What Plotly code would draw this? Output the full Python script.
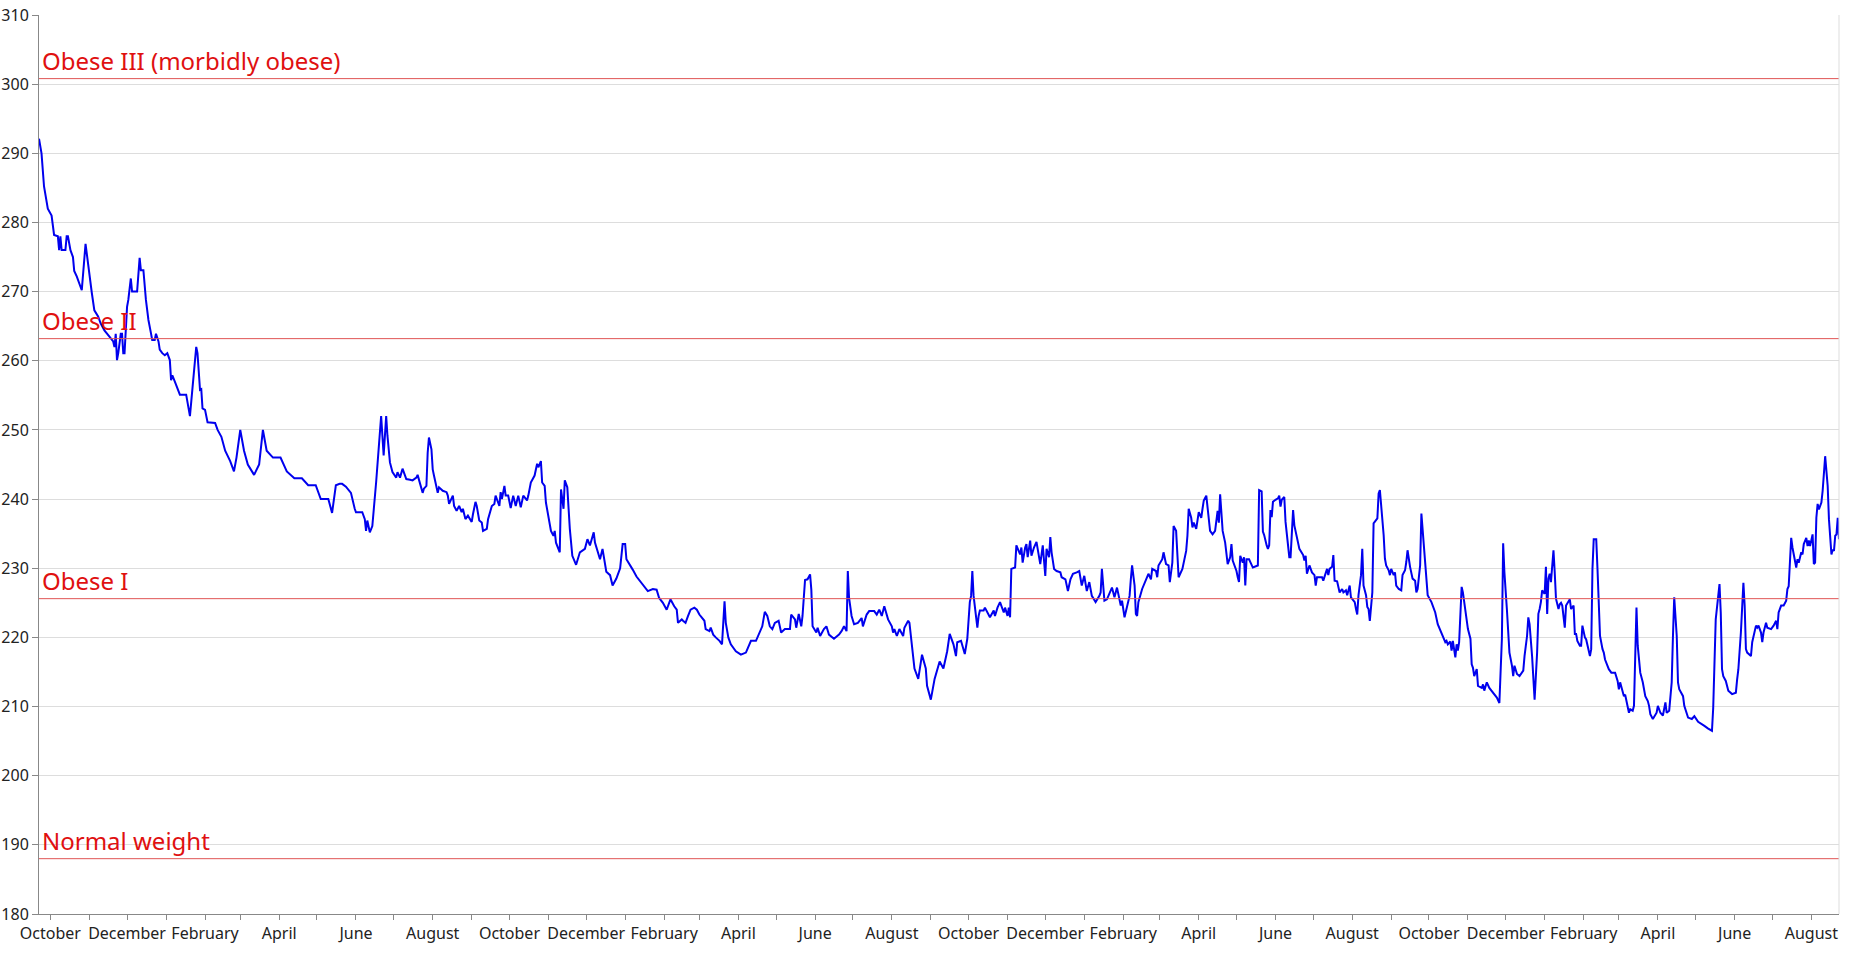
import pandas as pd
import plotly.graph_objects as go

START = "2013-09-22"

# (day offset from START, weight in lb)
seg1 = [(0,292.1),(2,290),(4,285.2),(7,282),(10,281),(12,278.2),(15,278),(16,276),(17,278),(18,276),(21,276),(22,278),(23,278),(25,276),(27,275),(28,273),(30,272.2),(32,271.2),(34,270.2),(37,276.9),(40,272.2),(42,269.8),(44,267.3),(47,266.4),(49,265.4),(52,264.4),(56,263.5),(59,262.8),(60,262),(61,263.9),(62,260.1),(63,261.1),(65,263.9),(66,263.9),(67,261.1),(68,261.1),(70,267.8),(71,268.8),(73,271.9),(74,270),(78,270),(80,274.9),(81,273.1),(83,273.1),(85,268.8),(87,265.9),(89,264),(90,263),(92,263),(93,263.9),(95,262.8),(96,261.6),(98,261.1),(100,260.8),(102,261.1),(104,260.1),(105,257.2),(106,257.9),(108,257),(110,256),(112,255.1),(117,255.1),(120,252),(125,262),(126,261.1),(128,255.8),(129,255.9),(130,253.1),(132,252.9),(134,251.1),(140,251),(142,250),
        (145,249),(148,247),(152,245.5),(155,244),(157,246),(160,250),(163,247),(166,245),(171,243.5),(175,245),(178,250),(181,247),(186,246),(192,246),(197,244),(203,243),(209,243),(214,242),(220,242),(224,240),(230,240),(233,238),(236,242)]

seg2 = [(239,242.2),(241,242.2),(244,241.8),(248,240.9),(251,238.6),(252,238.1),(257,238.1),(259,237.1),(260,235.4),(261,236.9),(263,235.2),(265,236.1),(268,242.4),(270,247.7),(272,252),(274,246.3),(276,252),(277,249.2),(279,245.3),(281,243.9),(284,243.1),(285,243.9),(287,243.1),(289,244.4),(291,243.4),(292,242.9),(295,242.8),(297,242.7),(300,243.1),(301,243.5),(303,242.2),(305,240.9),(306,241.5),(308,241.9),(309,246.7),(310,248.9),(312,247.2),(313,244.3),(314,243.4),(316,241.4),(317,240.9),(318,241.7),(321,241.2),(324,241),(325,240.5),(326,239.3),(329,240.5),(330,239),(332,238.3),(334,239),(336,238.1),(337,238.6),(339,237.1),(341,237.6),(344,236.7),(345,237.8),(347,239.6),(348,239),(350,236.9),(352,236.6),(353,235.4),(356,235.7),(357,237.1),(360,239),(362,239.3),(363,240.5),(366,239),(367,241),(368,240),(370,241.9),(371,240.5),(373,240.5),(375,238.7),(377,240.5),(379,239),(381,240.5),(383,238.8),(385,240.5),(388,239.8),(389,240.5),(391,242.4),(394,243.4),(396,245.1),(397,244.6),(399,245.5),(400,242.4),(402,241.9),(403,239.5),(405,237.6),(407,235.4),(409,234.7),(410,235.4),(411,233.7),(414,232.3),(415,241.4),(417,238.6),(418,242.7),(420,241.7),(422,235.7),(424,231.8),(427,230.5),(430,232.3),(434,232.8),(436,234.2),(438,233.3),(441,235.2),(442,233.7),(444,232.3),(446,231.3),(448,232.8),(451,229.5),(454,229),(456,227.5),(459,228.5),(462,230),(464,233.5),(466,233.5),(467,231.3),(470,230.5),(472,229.8),(475,228.8),(477,228.3),(481,227.3)]

seg3 = [(484,226.7),(488,227),(491,226.9),(493,225.7),(496,225),(499,224),(502,225.5),(505,224.5),(507,224),(508,222.1),(511,222.6),(512,222.4),(514,222.1),(516,223.1),(518,224),(521,224.3),(523,224),(525,223.3),(529,222.4),(530,221.2),(533,220.9),(534,221.4),(536,220.4),(538,220),(541,219.5),(543,219),(545,225.2),(546,222.1),(548,220),(550,219),(554,218),(558,217.5),(562,217.8),(566,219.5),(570,219.5),(575,221.6),(577,223.7),(579,223.1),(581,221.6),(583,221.2),(585,222.1),(588,222.4),(590,220.7),(593,221.2),(597,221.2),(598,223.3),(601,222.6),(602,221.4),(604,223.4),(606,221.6),(607,223.1),(609,228.3),(611,228.4),(613,229.1),(614,226.9),(615,221.6),(618,220.7),(619,221.4),(621,220.2),(624,221.2),(626,221.6),(628,220.4),(632,219.8),(636,220.4),(638,220.9),(640,221.6),(642,220.9),(643,229.6),(644,225.7),(646,223.1),(648,221.9),(651,222.1),(654,222.8),(655,221.6),(658,223.3),(660,223.8),(664,223.8),(666,223.3),(668,224),(670,223.1),(672,224.5),(675,222.6),(678,221.6),(679,220.7),(680,221.2),(682,220.2),(684,221.2),(687,220.2),(688,221.4),(691,222.4),(692,222.1),(696,215.5),(699,214),(702,217.5),(705,215.5),(706,213),(709,211),(712,214),(716,216.5),(719,215.5),(722,218)]

seg4 = [(724,220.5),(727,219),(729,217.3),(730,219.3),(733,219.5),(736,217.6),(738,219.8),(740,225.1),(741,226),(742,229.6),(743,226),(745,223.1),(746,221.4),(747,223.1),(748,223.9),(751,223.9),(752,224.3),(756,222.9),(759,223.9),(760,223.1),(762,224.3),(764,225.1),(767,223.6),(768,224.3),(770,223.1),(771,224.3),(772,222.9),(773,229.9),(776,230.1),(777,233.3),(780,232),(781,233),(782,230.8),(784,233),(785,233.5),(786,231.6),(788,234),(789,231.8),(791,233),(793,233.8),(795,231.8),(796,230.6),(798,233.3),(800,228.9),(801,232.8),(803,231.6),(804,234.5),(805,232.3),(807,229.9),(809,229.6),(812,229.4),(813,228.7),(816,228.4),(818,226.7),(820,228.4),(822,229.2),(825,229.4),(827,229.6),(829,227.5),(831,228.9),(833,226.7),(835,228),(837,226),(840,225.1),(843,226),(844,226.5),(845,229.9),(847,225.3),(849,225.5),(853,227.2),(855,225.8),(857,227.2),(860,224.6),(861,225.3),(863,222.9),(865,224.6),(867,226),(868,228.4),(869,230.4),(871,227.5),(872,223.4),(873,223.1),(874,225.1),(877,227),(880,228.4),(882,229.2),(884,228.4),(885,229.9),(888,229.6),(889,228.7),(890,230.4),(893,231.3),(894,232.3),(896,230.6),(898,230.4),(899,228),(901,230.8),(902,236.1),(904,235.4),(905,232.3),(906,228.7),(909,229.9),(912,232.5),(913,234.7),(914,238.6),(916,237.3),(917,235.9),(918,236.6),(920,235.7),(922,238.1),(924,237.3),(925,238.6),(926,239.8),(928,240.5),(930,237.6),(931,235.4),(933,234.9),(935,235.4),(937,238.3),(938,236.6),(939,240.7),(940,237.6),(941,235.4),(943,233.7),(944,232.3),(945,230.6),(947,231.6),(948,233.5),(949,231.1),(952,229.6),(953,228.7),(954,228),(955,231.8),(957,230.8),(958,231.6),(959,227.5),(960,231.3),(962,231.3),(965,230.1)]

seg5 = [(967,230.3),(969,230.4),(970,241.3),(972,241.1),(973,235.3),(974,234.8),(976,233.3),(977,232.8),(978,233.3),(979,238.4),(980,237.4),(981,239.6),(983,239.9),(985,240.1),(986,240.5),(987,238.9),(988,239.9),(990,240.3),(991,236.7),(993,233.8),(994,231.6),(995,231.6),(996,234.3),(997,238.4),(998,236.2),(1000,234.3),(1001,233.8),(1002,232.8),(1005,231.9),(1006,231.1),(1007,231.8),(1008,229.2),(1010,230.4),(1012,229.4),(1014,229),(1015,227.5),(1016,228.7),(1020,228.7),(1021,228.2),(1024,229.9),(1025,229),(1026,229.9),(1028,230.2),(1029,231.9),(1030,228.2),(1032,228.1),(1034,226.5),(1036,227),(1037,226.5),(1039,226.8),(1040,226.1),(1042,227.5),(1043,225.8),(1046,225.1),(1047,224.1),(1048,223.3),(1049,226.1),(1051,229),(1052,232.8),(1053,227.5),(1055,226.1),(1056,224.4),(1057,224.1),(1058,222.4),(1060,226.5),(1061,236.5),(1064,237.2),(1065,240.8),(1066,241.3),(1067,239.4),(1069,234.8),(1070,231.4),(1071,230.4),(1073,229.7),(1074,229),(1075,229.9),(1077,229),(1078,229.4),(1079,227.5),(1081,227),(1083,226.8),(1084,229),(1086,229.7),(1087,230.9),(1088,232.6),(1090,230.2),(1092,228.5),(1094,228.2),(1095,226.5),(1096,227),(1098,230.4),(1099,237.9),(1100,235.7),(1102,230.4),(1103,228),(1104,226.1),(1107,225.1),(1110,223.6),(1112,221.9),(1115,220.7),(1118,219.3),(1119,219.5),(1120,219),(1122,219.4),(1123,218.1),(1124,219.5),(1126,217.1),(1127,219),(1128,218.1),(1129,219.3),(1131,227.3),(1132,226.5),(1134,224.1),(1136,221.2),(1138,219.8),(1139,216.1),(1140,215.6),(1141,214.4),(1143,215.4),(1144,213),(1147,212.7),(1148,213.2),(1149,212.3),(1151,213.5),(1153,212.7),(1156,212),(1159,211.3),(1161,210.5),(1163,219.8),(1164,233.6),(1165,229.4),(1167,224),(1168,219.8),(1169,217.8),(1171,215.9),(1172,214.4),(1173,215.9),(1175,214.7),(1177,214.4),(1180,215.2),(1181,217.3),(1183,220.2),(1184,222.9),(1185,221.9),(1187,217.3),(1188,213.9),(1189,211),(1191,217.8),(1192,223.4),(1193,224.1),(1194,225.1),(1195,226.8),(1197,226.3),(1198,230.2),(1199,223.4),(1200,228.5),(1201,229.2),(1202,228),(1203,231.1),(1204,232.6),(1205,229.4),(1206,225.6),(1208,224.1)]

seg6 = [(1209,224.8),(1210,225),(1211,224.6),(1213,221.4),(1214,224.6),(1217,225.5),(1218,224.1),(1220,224.6),(1221,220.5),(1222,220.5),(1223,219.5),(1225,218.8),(1226,218.8),(1227,221.7),(1229,220),(1230,219.7),(1232,218.3),(1233,217.3),(1234,218.3),(1235,229.9),(1236,234.2),(1238,234.2),(1239,229.9),(1240,223.6),(1241,220.2),(1243,218.3),(1244,217.8),(1245,216.8),(1247,215.9),(1248,215.4),(1250,214.9),(1253,214.9),(1255,213.7),(1256,212.5),(1257,213.5),(1258,212.7),(1260,211.5),(1261,211.7),(1263,210.1),(1264,209.1),(1265,209.6),(1267,209.4),(1268,210.1),(1269,217.8),(1270,224.3),(1271,218.8),(1272,217.3),(1273,214.9),(1275,213.5),(1276,212.5),(1277,211.5),(1279,210.8),(1280,210.1),(1281,208.9),(1283,208.2),(1286,209.1),(1287,210.1),(1289,209.1),(1291,208.7),(1293,210.6),(1294,209.1),(1296,209.4),(1298,213.5),(1299,220.2),(1300,225.8),(1302,220.2),(1303,213.5),(1304,212.5),(1307,211.5),(1308,210.1),(1310,209.1),(1311,208.4),(1314,208.2),(1316,208.6),(1319,207.8),(1322,207.5),(1324,207.2),(1327,206.8),(1330,206.5),(1331,209.8),(1332,218.8),(1333,222.6),(1336,227.7),(1337,223.6),(1338,215.4),(1339,214.4),(1341,213.7),(1342,213),(1343,212.3),(1346,211.8),(1349,212),(1350,213.9),(1351,215.4),(1353,220.7),(1354,224.1),(1355,227.9),(1356,224.6),(1357,218.3),(1358,217.8),(1361,217.3),(1362,219.3),(1365,221.7),(1366,221.4),(1367,221.7),(1369,220.7),(1370,219.3),(1371,220.7),(1373,222.1),(1374,221.4),(1377,221.2),(1379,221.7),(1381,222.4),(1382,221.2),(1383,223.6),(1385,224.6),(1387,224.6),(1389,225.3),(1390,227),(1391,227.4),(1392,230.8),(1393,234.4),(1394,233),(1395,231.8),(1397,230.1),(1398,231.3),(1399,230.8),(1401,232.3),(1402,232),(1403,233.5),(1405,234.4),(1406,233.2),(1407,234),(1408,233.2),(1410,234.9),(1411,230.6),(1412,230.8),(1413,237.3),(1414,239.3),(1415,238.5),(1417,239.5),(1418,241.2),(1419,244.3),(1420,246.2),(1422,241.9),(1423,237.1),(1425,232),(1426,232.7),(1427,232.5),(1428,234.7),(1429,234.9),(1430,237.3),(1431,234.2)]

threshold_values = [188.0, 225.6, 263.2, 300.8]
threshold_labels = ["Normal weight", "Obese I", "Obese II", "Obese III (morbidly obese)"]

log = seg1 + seg2 + seg3 + seg4 + seg5 + seg6
days = [d for d, _ in log]
weights = [w for _, w in log]
dates = pd.Timestamp(START) + pd.to_timedelta(days, unit="D")

fig = go.Figure()
fig.add_trace(go.Scatter(x=dates, y=weights, mode="lines",
                         line=dict(color="#0000ee", width=2), showlegend=False,
                         hoverinfo="x+y"))

for v, lab in zip(threshold_values, threshold_labels):
    fig.add_shape(type="line", xref="paper", x0=0, x1=1, yref="y", y0=v, y1=v,
                  line=dict(color="#e05555", width=1), layer="above")
    fig.add_annotation(text=lab, xref="paper", x=0, xanchor="left", xshift=1,
                       yref="y", y=v, yanchor="bottom", showarrow=False,
                       font=dict(size=24, color="#e01010"))

fig.add_shape(type="line", xref="paper", x0=1, x1=1, yref="paper", y0=0, y1=1,
              line=dict(color="#dddddd", width=1))

fig.update_layout(
    width=1849, height=956,
    margin=dict(l=39, r=10, t=15, b=42, autoexpand=False),
    paper_bgcolor="white", plot_bgcolor="white",
    font=dict(family="Noto Sans, Open Sans, sans-serif", size=16, color="#222"),
    showlegend=False,
)
fig.update_xaxes(type="date", autorange=True, showgrid=False, automargin=False,
                 tick0="2013-10-01", dtick="M2", tickformat="%B",
                 ticks="outside", ticklen=5, tickcolor="#888",
                 minor=dict(dtick="M1", ticks="outside", ticklen=5, tickcolor="#888"),
                 showline=True, linecolor="#888", linewidth=1,
                 tickfont=dict(size=16, color="#222"))
fig.update_yaxes(range=[180, 310], dtick=10, showgrid=True, gridcolor="#dddddd",
                 automargin=False,
                 ticks="outside", ticklen=6, tickcolor="#888",
                 showline=True, linecolor="#888", linewidth=1, zeroline=False,
                 tickfont=dict(size=16, color="#222"))

fig.write_html("out.html", config={"displayModeBar": False},
               post_script="document.body.style.margin='0';document.body.style.overflow='hidden';")
